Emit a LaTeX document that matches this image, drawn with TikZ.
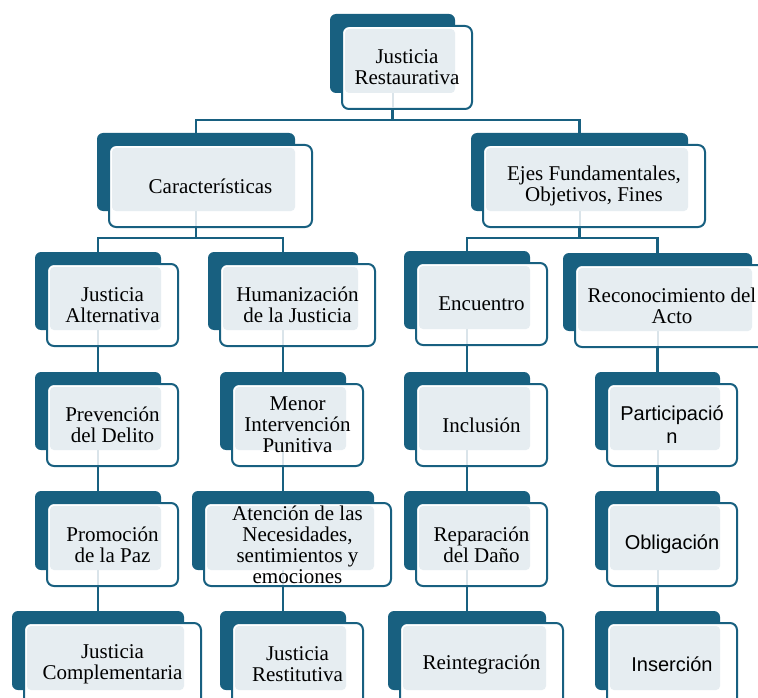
\documentclass[tikz,border=0pt]{standalone}
\usepackage{fontspec}
\setmainfont{Liberation Serif}
\newfontfamily\aptosf{Liberation Sans}
\usetikzlibrary{backgrounds}
\definecolor{dkblue}{RGB}{24,96,128}
\definecolor{ltblue}{RGB}{230,237,241}
\definecolor{faintc}{RGB}{218,228,234}
\tikzset{
  darkbox/.style={fill=dkblue, rounded corners=6pt, inner sep=0pt, outer sep=0pt},
  framebox/.style={draw=dkblue, line width=2pt, fill=white, rounded corners=7pt},
  lightbox/.style={fill=ltblue, rounded corners=4pt},
  txt/.style={align=center, text=black, font=\fontsize{21}{21}\selectfont, inner sep=0pt},
  stxt/.style={align=center, text=black, font=\aptosf\fontsize{20}{23}\selectfont, inner sep=0pt},
  conn/.style={draw=dkblue, line width=2.2pt},
  faint/.style={draw=faintc, line width=2pt},
}
% name, x0, y0, x1, y1, text style, text, faint flag
\newcommand{\blk}[8]{%
  \pgfmathsetmacro{\bw}{#4-#2}\pgfmathsetmacro{\bh}{#5-#3}%
  \pgfmathsetmacro{\bcx}{(#2+#4)/2}\pgfmathsetmacro{\bcy}{(#3+#5)/2}%
  \node[darkbox, minimum width=\bw pt, minimum height=\bh pt] (#1) at (\bcx,\bcy) {};
  \draw[framebox] (#2+12,#3+12) rectangle (#4+17,#5+16);
  \ifnum#8=1 \draw[faint] (\bcx,#5) -- (\bcx,#5+15);\fi
  \fill[lightbox] (#2+15,#3+15) rectangle (#4,#5);
  \node[#6] (#1-t) at ({(#2+#4+29)/2},{(#3+#5+28)/2}) {#7};
}
\begin{document}
\begin{tikzpicture}[x=1pt,y=-1pt]
\useasboundingbox (0,0) rectangle (758,698);
% level 0
\blk{root}{330}{14}{455}{93}{txt}{Justicia\\Restaurativa}{1}
% level 1
\blk{car}{97}{133}{295}{211}{txt}{Características}{1}
\blk{ejes}{471}{133}{688}{211}{txt}{Ejes Fundamentales,\\Objetivos, Fines}{1}
% row 2
\blk{ja}{35}{252}{161}{330}{txt}{Justicia\\Alternativa}{1}
\blk{hum}{208}{252}{358}{330}{txt}{Humanización\\de la Justicia}{1}
\blk{enc}{404}{251}{530}{329}{txt}{Encuentro}{1}
\blk{rec}{563}{253}{752}{331}{txt}{Reconocimiento del\\Acto}{1}
% row 3
\blk{prev}{35}{372}{161}{450}{txt}{Prevención\\del Delito}{1}
\blk{menor}{220}{372}{346}{450}{txt}{Menor\\Intervención\\Punitiva}{1}
\blk{incl}{404}{372}{530}{450}{txt}{Inclusión}{1}
\blk{part}{595}{372}{720}{450}{stxt}{Participació\\n}{1}
% row 4
\blk{prom}{35}{491}{161}{570}{txt}{Promoción\\de la Paz}{1}
\blk{aten}{192}{491}{374}{570}{txt}{Atención de las\\Necesidades,\\sentimientos y\\emociones}{1}
\blk{rep}{404}{491}{530}{570}{txt}{Reparación\\del Daño}{1}
\blk{obl}{595}{491}{720}{570}{stxt}{Obligación}{1}
% row 5
\blk{jc}{12}{611}{184}{690}{txt}{Justicia\\Complementaria}{0}
\blk{jr}{220}{611}{346}{690}{txt}{Justicia\\Restitutiva}{0}
\blk{rein}{388}{611}{546}{690}{txt}{Reintegración}{0}
\blk{ins}{595}{611}{720}{690}{stxt}{Inserción}{0}
\begin{scope}[on background layer]
  \fill[white] (0,0) rectangle (758,698);
  \coordinate (bR) at (392.5,120);
  \coordinate (bC) at (196,238);
  \coordinate (bE) at (579.5,238);
  \draw[conn] (root.south) -- (bR);
  \draw[conn] (bR) -| (car.north);
  \draw[conn] (bR) -| (ejes.north);
  \draw[conn] (car.south) -- (bC);
  \draw[conn] (bC) -| (ja.north);
  \draw[conn] (bC) -| (hum.north);
  \draw[conn] (ejes.south) -- (bE);
  \draw[conn] (bE) -| (enc.north);
  \draw[conn] (bE) -| (rec.north);
  \draw[conn] (ja.south) -- (prev.north);
  \draw[conn] (prev.south) -- (prom.north);
  \draw[conn] (prom.south) -- (jc.north);
  \draw[conn] (hum.south) -- (menor.north);
  \draw[conn] (menor.south) -- (aten.north);
  \draw[conn] (aten.south) -- (jr.north);
  \draw[conn] (enc.south) -- (incl.north);
  \draw[conn] (incl.south) -- (rep.north);
  \draw[conn] (rep.south) -- (rein.north);
  \draw[conn] (rec.south) -- (part.north);
  \draw[conn] (part.south) -- (obl.north);
  \draw[conn] (obl.south) -- (ins.north);
\end{scope}
\end{tikzpicture}
\end{document}
